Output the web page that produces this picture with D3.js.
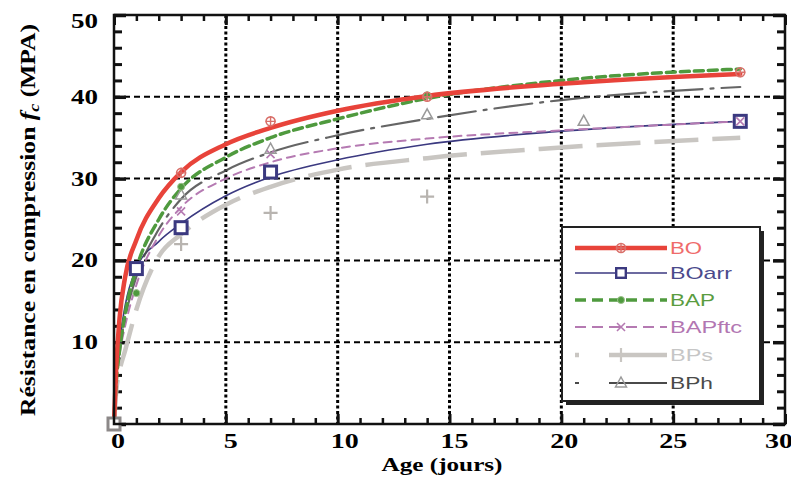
<!DOCTYPE html>
<html><head><meta charset="utf-8">
<script src="https://cdn.jsdelivr.net/npm/d3@7"></script>
<style>body{margin:0;background:#fff}svg{display:block}</style>
</head><body>
<svg id="c" width="791" height="479"></svg>
<script>
// ---- data ----
const seriesNames = ["BO","BOarr","BAP","BAPftc","BPs","BPh"];
const ages = [0,0.1,0.25,0.5,1,2,3,5,7,10,14,20,28];
const BO     = [0,7,13,18,22.5,27.6,30.8,34.2,36.2,38.3,40.1,41.6,42.8];
const BOarr  = [0,5,10,14.5,19,22.3,24.5,27.9,30.2,32.3,34.2,35.8,37];
const BAP    = [0,5,9,13.5,19,25,28.8,32.6,35,37.3,39.8,42,43.4];
const BAPftc = [0,5,8.5,12,17,23,26.5,30,32,33.7,34.9,35.9,37];
const BPs    = [0,4,6.5,9,14,20.5,23.2,26.8,29,31.1,32.5,33.8,35];
const BPh    = [0,5,9,13,18,23.8,27.5,31,33.2,35.3,37.3,39.6,41.2];
// measured points (age, value)
const ptsBO     = [[3,30.7],[7,37],[14,40],[28,43]];
const ptsBOarr  = [[0,0],[1,19],[3,24],[7,30.8],[28,37]];
const ptsBAP    = [[1,16],[3,29],[14,40.2]];
const ptsBAPftc = [[3,26],[7,33],[28,37]];
const ptsBPs    = [[3,22],[7,25.8],[14,27.8]];
const ptsBPh    = [[3,28],[7,33.6],[14,37.8],[21,37]];
const xTickLabels = [0,5,10,15,20,25,30];
const yTickLabels = [10,20,30,40,50];

const svg = d3.select("#c");
const x = d3.scaleLinear().domain([0,30]).range([114,785]);
const y = d3.scaleLinear().domain([0,50]).range([424,15]);

const styles = {
  BO:    {color:"#e8433a", width:4.5, dash:null, text:"#ef6b6b", marker:"circle"},
  BOarr: {color:"#3b3980", width:1.6, dash:null, text:"#4b4a8c", marker:"square"},
  BAP:   {color:"#4f9a3e", width:3.5, dash:"9,5", text:"#5a9c40", marker:"dot"},
  BAPftc:{color:"#b57ab2", width:2,   dash:"8,6", text:"#b276b2", marker:"x"},
  BPs:   {color:"#c9c6c2", width:4.5, dash:"44,14", text:"#c6c6c6", marker:"plus"},
  BPh:   {color:"#4a4a4a", width:2.2, dash:"38,8,3,8", text:"#4a4a4a", marker:"tri"}
};
const vals = {BO,BOarr,BAP,BAPftc,BPs,BPh};
const pts = {BO:ptsBO,BOarr:ptsBOarr,BAP:ptsBAP,BAPftc:ptsBAPftc,BPs:ptsBPs,BPh:ptsBPh};

// grid
const g = svg.append("g");
g.selectAll(".vg").data([5,10,15,20,25]).join("line")
  .attr("x1",d=>x(d)).attr("x2",d=>x(d)).attr("y1",y(50)).attr("y2",y(0))
  .attr("stroke","#000").attr("stroke-width",3).attr("stroke-dasharray","3,2.5");
g.selectAll(".hg").data([10,20,30,40]).join("line")
  .attr("x1",x(0)).attr("x2",x(30)).attr("y1",d=>y(d)).attr("y2",d=>y(d))
  .attr("stroke","#000").attr("stroke-width",2).attr("stroke-dasharray","6,4");

// axes with inward ticks
function minorAxis(axisFn, scale, tv, size){
  return axisFn(scale).tickValues(tv).tickSize(size).tickFormat("");
}
const xMinor = d3.range(0,31,1).filter(d=>d%5!==0);
const xMajor = d3.range(0,31,5);
const yMinor = d3.range(0,51,2).filter(d=>d%10!==0);
const yMajor = d3.range(0,51,10);
function styleAxis(sel, w){ sel.select(".domain").remove(); sel.selectAll("line").attr("stroke","#111").attr("stroke-width",w); }
svg.append("g").attr("transform",`translate(0,${y(0)})`).call(minorAxis(d3.axisBottom,x,xMinor,-6)).call(s=>styleAxis(s,2.5));
svg.append("g").attr("transform",`translate(0,${y(0)})`).call(minorAxis(d3.axisBottom,x,xMajor,-10)).call(s=>styleAxis(s,3));
svg.append("g").attr("transform",`translate(0,${y(50)})`).call(minorAxis(d3.axisTop,x,xMinor,-6)).call(s=>styleAxis(s,2.5));
svg.append("g").attr("transform",`translate(0,${y(50)})`).call(minorAxis(d3.axisTop,x,xMajor,-10)).call(s=>styleAxis(s,3));
svg.append("g").attr("transform",`translate(${x(0)},0)`).call(minorAxis(d3.axisLeft,y,yMinor,-8)).call(s=>styleAxis(s,3));
svg.append("g").attr("transform",`translate(${x(0)},0)`).call(minorAxis(d3.axisLeft,y,yMajor,-12)).call(s=>styleAxis(s,3.5));
svg.append("g").attr("transform",`translate(${x(30)},0)`).call(minorAxis(d3.axisRight,y,yMinor,-8)).call(s=>styleAxis(s,3));
svg.append("g").attr("transform",`translate(${x(30)},0)`).call(minorAxis(d3.axisRight,y,yMajor,-12)).call(s=>styleAxis(s,3.5));

// curves
const line = d3.line().x(d=>x(d[0])).y(d=>y(d[1])).curve(d3.curveMonotoneX);
const drawOrder = ["BPs","BOarr","BAPftc","BPh","BAP","BO"];
drawOrder.forEach(n=>{
  const st = styles[n];
  svg.append("path").datum(ages.map((a,i)=>[a,vals[n][i]]))
    .attr("d",line).attr("fill","none").attr("stroke",st.color)
    .attr("stroke-width",st.width).attr("stroke-dasharray",st.dash)
    .attr("stroke-linecap", n==="BPs"?"butt":"round").attr("opacity", n==="BPh"?0.85:1);
});

function marker(sel, type, color, cx, cy, s){
  const gg = sel.append("g").attr("transform",`translate(${cx},${cy})`);
  if(type==="circle"){ gg.append("circle").attr("r",4.5*s).attr("fill","none").attr("stroke",color).attr("stroke-width",1.6);
    gg.append("path").attr("d",`M${-5*s},0H${5*s}M0,${-5*s}V${5*s}`).attr("stroke",color).attr("stroke-width",1.4); }
  else if(type==="square"){ gg.append("rect").attr("x",-6*s).attr("y",-6*s).attr("width",12*s).attr("height",12*s).attr("fill","#fff").attr("stroke",color).attr("stroke-width",3*s); }
  else if(type==="dot"){ gg.append("circle").attr("r",3.5*s).attr("fill",color).attr("stroke","#9bc08a").attr("stroke-width",1); }
  else if(type==="x"){ gg.append("path").attr("d",`M${-4*s},${-4*s}L${4*s},${4*s}M${4*s},${-4*s}L${-4*s},${4*s}`).attr("stroke",color).attr("stroke-width",1.6); }
  else if(type==="plus"){ gg.append("path").attr("d",`M${-7*s},0H${7*s}M0,${-7*s}V${7*s}`).attr("stroke",color).attr("stroke-width",2.2); }
  else if(type==="tri"){ gg.append("path").attr("d",`M0,${-6*s}L${5.5*s},${4*s}L${-5.5*s},${4*s}Z`).attr("fill","none").attr("stroke","#9a9a9a").attr("stroke-width",1.5); }
}
drawOrder.forEach(n=>{
  const st = styles[n];
  pts[n].forEach(p=> marker(svg, st.marker,
    n==="BO"? "#d9706a" : (n==="BPs" ? "#b8b4b0" : (n==="BOarr" && p[0]===0 ? "#8c8888" : st.color)),
    x(p[0]), y(p[1]), 1));
});

// frame
svg.append("rect").attr("x",x(0)).attr("y",y(50)).attr("width",x(30)-x(0)).attr("height",y(0)-y(50))
  .attr("fill","none").attr("stroke","#111").attr("stroke-width",2.5);

// tick labels
const serif = "'Liberation Serif','Times New Roman',serif";
svg.append("g").selectAll("text").data(yTickLabels).join("text")
  .attr("x",98).attr("y",d=> d===50 ? y(d)+13 : y(d)+7).attr("text-anchor","end")
  .attr("font-family",serif).attr("font-weight","bold").attr("font-size",20)
  .attr("textLength",27).attr("lengthAdjust","spacingAndGlyphs").text(d=>d);
const xLabOff = {0:4,5:5,10:7,15:5,20:3,25:0,30:-6};
svg.append("g").selectAll("text").data(xTickLabels).join("text")
  .attr("x",d=>x(d)+xLabOff[d]).attr("y",448).attr("text-anchor","middle")
  .attr("font-family",serif).attr("font-weight","bold").attr("font-size",20)
  .attr("textLength",d=>String(d).length*14).attr("lengthAdjust","spacingAndGlyphs").text(d=>d);

// axis titles
svg.append("text").attr("x",442).attr("y",471).attr("text-anchor","middle")
  .attr("font-family",serif).attr("font-weight","bold").attr("font-size",19)
  .attr("textLength",121).attr("lengthAdjust","spacingAndGlyphs").text("Age (jours)");
const yt = svg.append("text").attr("transform","translate(35,220) rotate(-90)").attr("text-anchor","middle")
  .attr("font-family",serif).attr("font-weight","bold").attr("font-size",20)
  .attr("textLength",392).attr("lengthAdjust","spacingAndGlyphs");
yt.append("tspan").text("Résistance en compression ");
yt.append("tspan").attr("font-style","italic").text("f");
yt.append("tspan").attr("font-style","italic").attr("font-size",14).attr("dy",4).text("c");
yt.append("tspan").attr("dy",-4).text(" (MPA)");

// legend
const lg = svg.append("g");
lg.append("rect").attr("x",566).attr("y",231).attr("width",198).attr("height",174).attr("fill","#222");
lg.append("rect").attr("x",562).attr("y",227).attr("width",198).attr("height",174).attr("fill","#fff").attr("stroke","#222").attr("stroke-width",2);
const lgY = [248,273,300,327,355,383];
const lgW = {BO:32,BOarr:62,BAP:45,BAPftc:72,BPs:43,BPh:43};
seriesNames.forEach((n,i)=>{
  const st = styles[n], yy = lgY[i];
  let dash = st.dash;
  if(n==="BAP"||n==="BAPftc") dash="11,6";
  if(n==="BPs"||n==="BPh") dash = "4,30,60";
  lg.append("line").attr("x1",575).attr("x2",667).attr("y1",yy).attr("y2",yy)
    .attr("stroke",st.color).attr("stroke-width",n==="BPs"?4.5:st.width).attr("stroke-dasharray",dash);
  marker(lg, st.marker, n==="BO"?"#d9706a":st.color, 621, yy, n==="BOarr"?0.8:1);
  lg.append("text").attr("x",670).attr("y",yy+6).attr("font-family","'Liberation Sans',Arial,sans-serif")
    .attr("font-size",17).attr("fill",st.text).attr("textLength",lgW[n]).attr("lengthAdjust","spacingAndGlyphs").text(n);
});
</script>
</body></html>
